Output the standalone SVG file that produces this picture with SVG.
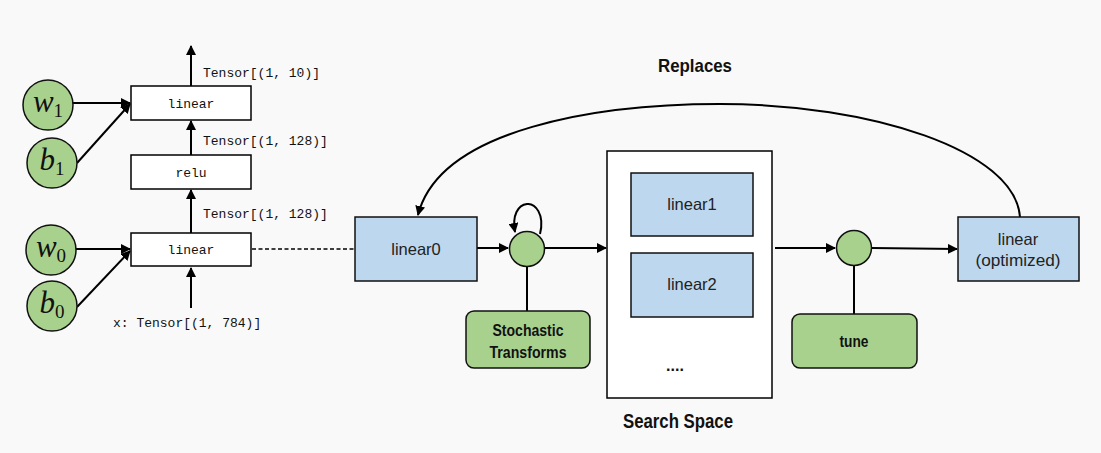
<svg xmlns="http://www.w3.org/2000/svg" width="1101" height="453" viewBox="0 0 1101 453">
<defs>
<style>
.bg{fill:#f9f9f9}
.box{fill:#ffffff;stroke:#000;stroke-width:1.5}
.blue{fill:#bdd7ee;stroke:#111;stroke-width:1.5}
.green{fill:#a9d18e;stroke:#111;stroke-width:1.5}
.line{fill:none;stroke:#000;stroke-width:2}
.mono{font-family:"Liberation Mono","DejaVu Sans Mono",monospace;font-size:13px;fill:#111}
.sans{font-family:"Liberation Sans",Arial,sans-serif;font-size:16.5px;fill:#222}
.bold{font-family:"Liberation Sans",Arial,sans-serif;font-weight:bold;fill:#111}
.math{font-family:"Liberation Serif","Times New Roman",serif;font-style:italic;font-size:31px;fill:#111}
.sub{font-family:"Liberation Serif","Times New Roman",serif;font-style:normal;font-size:19px}
</style>
<marker id="arrL" viewBox="0 0 10 10" refX="9" refY="5" markerWidth="10" markerHeight="10" markerUnits="userSpaceOnUse" orient="auto">
<path d="M0,0 L10,5 L0,10 z" fill="#000"/>
</marker>
</defs>
<rect class="bg" x="0" y="0" width="1101" height="453"/>

<g id="connectors">
<line class="line" x1="191" y1="86" x2="191" y2="46" marker-end="url(#arrL)"/>
<line class="line" x1="191" y1="155" x2="191" y2="121" marker-end="url(#arrL)"/>
<line class="line" x1="191" y1="233" x2="191" y2="190" marker-end="url(#arrL)"/>
<line class="line" x1="191" y1="308" x2="191" y2="268" marker-end="url(#arrL)"/>
<line class="line" x1="72" y1="103" x2="130" y2="103" marker-end="url(#arrL)"/>
<line class="line" x1="77" y1="163" x2="130" y2="104" marker-end="url(#arrL)"/>
<line class="line" x1="76" y1="249" x2="130" y2="249" marker-end="url(#arrL)"/>
<line class="line" x1="77" y1="307" x2="130" y2="251" marker-end="url(#arrL)"/>
<line x1="252" y1="249" x2="355" y2="249" stroke="#000" stroke-width="1.4" stroke-dasharray="4,2.5"/>
<line class="line" x1="477" y1="248" x2="508" y2="248" marker-end="url(#arrL)"/>
<path class="line" d="M540,234 C545,214 535,203 527,204 C518,205 512,215 515,232" marker-end="url(#arrL)"/>
<line class="line" x1="527" y1="266" x2="527" y2="311"/>
<line class="line" x1="545" y1="248" x2="606" y2="248" marker-end="url(#arrL)"/>
<line class="line" x1="775" y1="248" x2="835" y2="248" marker-end="url(#arrL)"/>
<line class="line" x1="854" y1="266" x2="854" y2="314"/>
<line class="line" x1="872" y1="248" x2="957" y2="249" marker-end="url(#arrL)"/>
<path class="line" d="M1020,217 C1015,150 870,104 720,104 C600,104 440,128 418,215" marker-end="url(#arrL)"/>
</g>

<g id="w1"><circle class="green" cx="48" cy="105" r="25"/><text class="math" x="48" y="112" text-anchor="middle">w<tspan class="sub" dy="5">1</tspan></text></g>
<g id="b1"><circle class="green" cx="52" cy="163" r="25"/><text class="math" x="52" y="170" text-anchor="middle">b<tspan class="sub" dy="5">1</tspan></text></g>
<g id="w0"><circle class="green" cx="51" cy="250" r="25"/><text class="math" x="51" y="257" text-anchor="middle">w<tspan class="sub" dy="5">0</tspan></text></g>
<g id="b0"><circle class="green" cx="52" cy="306" r="25"/><text class="math" x="52" y="313" text-anchor="middle">b<tspan class="sub" dy="5">0</tspan></text></g>

<g id="linear_top"><rect class="box" x="131" y="86" width="120" height="34"/><text class="mono" x="191" y="108" text-anchor="middle">linear</text></g>
<g id="relu"><rect class="box" x="131" y="155" width="120" height="34"/><text class="mono" x="191" y="177" text-anchor="middle">relu</text></g>
<g id="linear_bottom"><rect class="box" x="131" y="233" width="120" height="33"/><text class="mono" x="191" y="254" text-anchor="middle">linear</text></g>

<g id="labels">
<text class="mono" x="203" y="77">Tensor[(1, 10)]</text>
<text class="mono" x="203" y="145">Tensor[(1, 128)]</text>
<text class="mono" x="203" y="218">Tensor[(1, 128)]</text>
<text class="mono" x="113" y="327">x: Tensor[(1, 784)]</text>
<text class="bold" x="695" y="72" font-size="19" text-anchor="middle" textLength="74" lengthAdjust="spacingAndGlyphs">Replaces</text>
<text class="bold" x="678" y="428" font-size="20" text-anchor="middle" textLength="110" lengthAdjust="spacingAndGlyphs">Search Space</text>
</g>

<g id="linear0"><rect class="blue" x="355" y="217" width="122" height="64"/><text class="sans" x="416" y="255" text-anchor="middle">linear0</text></g>

<g id="transform_op"><circle class="green" cx="527" cy="249" r="17.5"/></g>

<g id="stochastic"><rect class="green" x="466" y="311" width="124" height="57" rx="8"/>
<text class="bold" x="528" y="336" font-size="17" text-anchor="middle" textLength="71" lengthAdjust="spacingAndGlyphs">Stochastic</text>
<text class="bold" x="528" y="358" font-size="17" text-anchor="middle" textLength="77" lengthAdjust="spacingAndGlyphs">Transforms</text></g>

<g id="search_space"><rect class="box" x="607" y="151" width="165" height="247"/>
<text class="bold" x="675" y="371" text-anchor="middle" font-size="16">....</text></g>

<g id="linear1"><rect class="blue" x="631" y="173" width="122" height="63"/><text class="sans" x="692" y="210" text-anchor="middle">linear1</text></g>
<g id="linear2"><rect class="blue" x="631" y="253" width="122" height="64"/><text class="sans" x="692" y="290" text-anchor="middle">linear2</text></g>

<g id="tune_op"><circle class="green" cx="854" cy="248" r="17.5"/></g>
<g id="tune"><rect class="green" x="792" y="314" width="125" height="54" rx="8"/>
<text class="bold" x="854" y="347" font-size="17" text-anchor="middle" textLength="29" lengthAdjust="spacingAndGlyphs">tune</text></g>

<g id="linear_opt"><rect class="blue" x="958" y="217" width="121" height="64"/>
<text class="sans" x="1018" y="245" text-anchor="middle">linear</text>
<text class="sans" x="1018" y="266" text-anchor="middle" textLength="85" lengthAdjust="spacingAndGlyphs">(optimized)</text></g>
</svg>
